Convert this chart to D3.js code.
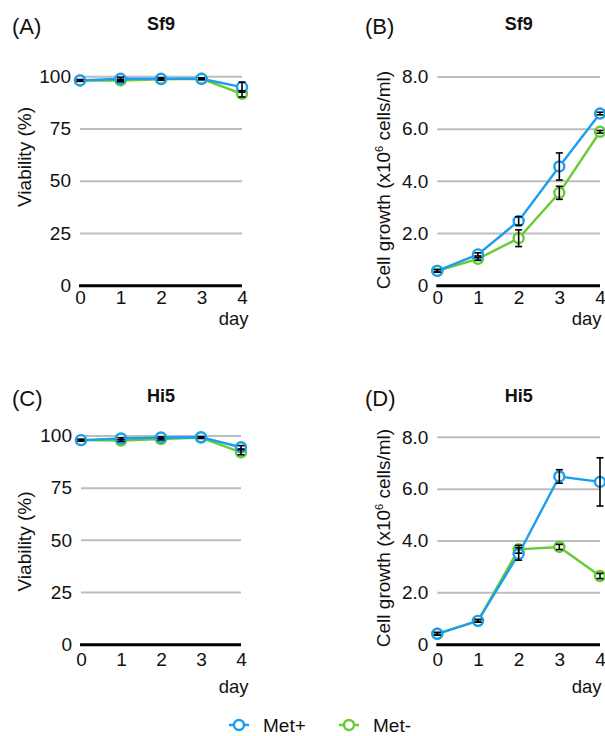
<!DOCTYPE html>
<html>
<head>
<meta charset="utf-8">
<script src="https://cdn.jsdelivr.net/npm/d3@7"></script>
<style>
  html, body { margin: 0; padding: 0; background: #fff; }
  svg { display: block; font-family: "Liberation Sans", Arial, Helvetica, sans-serif; }
</style>
</head>
<body>
<svg id="chart" width="605" height="736"></svg>
<script>
// ---------- data ----------
const days = [0, 1, 2, 3, 4];
const dayLabels = ["0", "1", "2", "3", "4"];
const viabilityTicks = [0, 25, 50, 75, 100];
const viabilityTickLabels = ["0", "25", "50", "75", "100"];
const growthTicks = [0, 2, 4, 6, 8];
const growthTickLabels = ["0", "2.0", "4.0", "6.0", "8.0"];
const seriesNames = ["Met+", "Met-"];

const sf9ViabMetPlus = [98.2, 99.0, 99.0, 99.0, 95.0];
const sf9ViabMetPlusErr = [0.4, 0.8, 0.6, 0.4, 2.4];
const sf9ViabMetMinus = [98.2, 98.2, 98.8, 99.0, 91.8];
const sf9ViabMetMinusErr = [0.4, 0.6, 0.4, 0.4, 1.5];

const sf9GrowthMetPlus = [0.57, 1.20, 2.48, 4.57, 6.60];
const sf9GrowthMetPlusErr = [0.05, 0.06, 0.16, 0.52, 0.05];
const sf9GrowthMetMinus = [0.57, 1.03, 1.82, 3.56, 5.90];
const sf9GrowthMetMinusErr = [0.05, 0.06, 0.32, 0.25, 0.05];

const hi5ViabMetPlus = [98.0, 98.8, 99.3, 99.4, 94.6];
const hi5ViabMetPlusErr = [0.4, 0.4, 0.4, 0.4, 0.8];
const hi5ViabMetMinus = [98.0, 97.8, 98.5, 99.2, 92.2];
const hi5ViabMetMinusErr = [0.4, 0.4, 0.4, 0.4, 1.2];

const hi5GrowthMetPlus = [0.42, 0.92, 3.50, 6.49, 6.28];
const hi5GrowthMetPlusErr = [0.05, 0.05, 0.24, 0.26, 0.93];
const hi5GrowthMetMinus = [0.42, 0.92, 3.68, 3.77, 2.65];
const hi5GrowthMetMinusErr = [0.05, 0.05, 0.15, 0.10, 0.10];

// ---------- style ----------
const BLUE = "#1a9ff0";
const GREEN = "#66cc33";
const GRID = "#bdbdbd";

const svg = d3.select("#chart");

function drawPanel(p) {
  const g = svg.append("g");
  const x = d3.scaleLinear().domain([0, 4]).range([p.left, p.right]);
  const y = d3.scaleLinear().domain([0, p.ymax]).range([p.bottom, p.top]);

  // panel letter and title
  g.append("text").attr("x", p.letterX).attr("y", p.titleY + 4)
    .attr("font-size", 22).attr("fill", "#111").text(p.letter);
  g.append("text").attr("x", (p.left + p.right) / 2).attr("y", p.titleY)
    .attr("font-size", 18).attr("font-weight", "bold").attr("text-anchor", "middle")
    .attr("fill", "#111").text(p.title);

  // gridlines
  g.selectAll("line.grid").data(p.ticks.filter(t => t > 0)).join("line")
    .attr("x1", p.left).attr("x2", p.right)
    .attr("y1", d => y(d)).attr("y2", d => y(d))
    .attr("stroke", GRID).attr("stroke-width", 2);

  // y axis labels (via d3 axis, no domain/ticks lines)
  const yAxis = d3.axisLeft(y).tickValues(p.ticks)
    .tickFormat((d, i) => p.tickLabels[i]).tickSize(0).tickPadding(9);
  const ya = g.append("g").attr("transform", `translate(${p.left},0)`).call(yAxis);
  ya.select(".domain").remove();
  ya.selectAll("text").attr("font-size", 19).attr("fill", "#111")
    .attr("font-family", "Liberation Sans, Arial, sans-serif").attr("dy", "0.3em");

  // x axis baseline
  g.append("line").attr("x1", p.left - 1).attr("x2", p.right)
    .attr("y1", y(0)).attr("y2", y(0)).attr("stroke", "#000").attr("stroke-width", 3);

  // x tick labels
  const xAxis = d3.axisBottom(x).tickValues(days)
    .tickFormat((d, i) => dayLabels[i]).tickSize(0).tickPadding(0);
  const xa = g.append("g").attr("transform", `translate(0,${y(0)})`).call(xAxis);
  xa.select(".domain").remove();
  xa.selectAll("text").attr("font-size", 19).attr("fill", "#111")
    .attr("font-family", "Liberation Sans, Arial, sans-serif")
    .attr("dy", null).attr("y", p.xTickOffset);

  // "day"
  g.append("text").attr("x", p.dayX).attr("y", y(0) + p.dayOffset)
    .attr("font-size", 18.5).attr("text-anchor", "end").attr("fill", "#111").text("day");

  // y title
  const yt = g.append("text").attr("transform", `translate(${p.ytitleX},${p.ytitleY}) rotate(-90)`)
    .attr("font-size", 19).attr("text-anchor", "middle").attr("fill", "#111");
  if (p.growth) {
    yt.append("tspan").text("Cell growth (x10");
    yt.append("tspan").attr("font-size", 11).attr("dy", -7).text("6");
    yt.append("tspan").attr("dy", 7).text(" cells/ml)");
  } else {
    yt.text("Viability (%)");
  }

  const line = d3.line().x((d, i) => x(days[i])).y(d => y(d));
  const series = [
    { vals: p.minus, err: p.minusErr, color: GREEN },
    { vals: p.plus, err: p.plusErr, color: BLUE }
  ];
  series.forEach(s => {
    g.append("path").datum(s.vals).attr("d", line)
      .attr("fill", "none").attr("stroke", s.color).attr("stroke-width", 2.4);
    g.selectAll(null).data(s.vals).join("circle")
      .attr("cx", (d, i) => x(days[i])).attr("cy", d => y(d)).attr("r", 5)
      .attr("fill", "#fff").attr("stroke", s.color).attr("stroke-width", 2.4);
  });
  // error bars on top
  series.forEach(s => {
    s.vals.forEach((v, i) => {
      const cx = x(days[i]);
      const y1 = y(v + s.err[i]), y2 = y(v - s.err[i]);
      const eb = g.append("g").attr("stroke", "#000").attr("stroke-width", 1.6);
      eb.append("line").attr("x1", cx).attr("x2", cx).attr("y1", y1).attr("y2", y2);
      eb.append("line").attr("x1", cx - 3.5).attr("x2", cx + 3.5).attr("y1", y1).attr("y2", y1);
      eb.append("line").attr("x1", cx - 3.5).attr("x2", cx + 3.5).attr("y1", y2).attr("y2", y2);
    });
  });
}

drawPanel({ letter: "(A)", title: "Sf9", letterX: 12, titleY: 29.5,
  left: 80, right: 242, top: 76.7, bottom: 285.7, ymax: 100,
  ticks: viabilityTicks, tickLabels: viabilityTickLabels,
  xTickOffset: 18.5, dayX: 248.5, dayOffset: 39, 
  ytitleX: 30.5, ytitleY: 157, growth: false,
  plus: sf9ViabMetPlus, plusErr: sf9ViabMetPlusErr,
  minus: sf9ViabMetMinus, minusErr: sf9ViabMetMinusErr });

drawPanel({ letter: "(B)", title: "Sf9", letterX: 365, titleY: 29.5,
  left: 437.3, right: 600, top: 77, bottom: 285.7, ymax: 8,
  ticks: growthTicks, tickLabels: growthTickLabels,
  xTickOffset: 18.5, dayX: 601.5, dayOffset: 39,
  ytitleX: 390, ytitleY: 180, growth: true,
  plus: sf9GrowthMetPlus, plusErr: sf9GrowthMetPlusErr,
  minus: sf9GrowthMetMinus, minusErr: sf9GrowthMetMinusErr });

drawPanel({ letter: "(C)", title: "Hi5", letterX: 12, titleY: 401.7,
  left: 81, right: 241, top: 436, bottom: 644.7, ymax: 100,
  ticks: viabilityTicks, tickLabels: viabilityTickLabels,
  xTickOffset: 21.5, dayX: 248.5, dayOffset: 48,
  ytitleX: 30.5, ytitleY: 541.5, growth: false,
  plus: hi5ViabMetPlus, plusErr: hi5ViabMetPlusErr,
  minus: hi5ViabMetMinus, minusErr: hi5ViabMetMinusErr });

drawPanel({ letter: "(D)", title: "Hi5", letterX: 365, titleY: 401.7,
  left: 437.3, right: 600, top: 437.3, bottom: 644.7, ymax: 8,
  ticks: growthTicks, tickLabels: growthTickLabels,
  xTickOffset: 21.5, dayX: 601.5, dayOffset: 48,
  ytitleX: 390, ytitleY: 538, growth: true,
  plus: hi5GrowthMetPlus, plusErr: hi5GrowthMetPlusErr,
  minus: hi5GrowthMetMinus, minusErr: hi5GrowthMetMinusErr });

// ---------- legend ----------
const legendColors = [BLUE, GREEN];
const legendX = [239, 349];
const leg = svg.append("g");
seriesNames.forEach((name, i) => {
  const cx = legendX[i];
  leg.append("line").attr("x1", cx - 10).attr("x2", cx + 10).attr("y1", 725).attr("y2", 725)
    .attr("stroke", legendColors[i]).attr("stroke-width", 2.4);
  leg.append("circle").attr("cx", cx).attr("cy", 725).attr("r", 5)
    .attr("fill", "#fff").attr("stroke", legendColors[i]).attr("stroke-width", 2.4);
  leg.append("text").attr("x", cx + 24).attr("y", 732).attr("font-size", 19)
    .attr("fill", "#111").text(name);
});
</script>
</body>
</html>
